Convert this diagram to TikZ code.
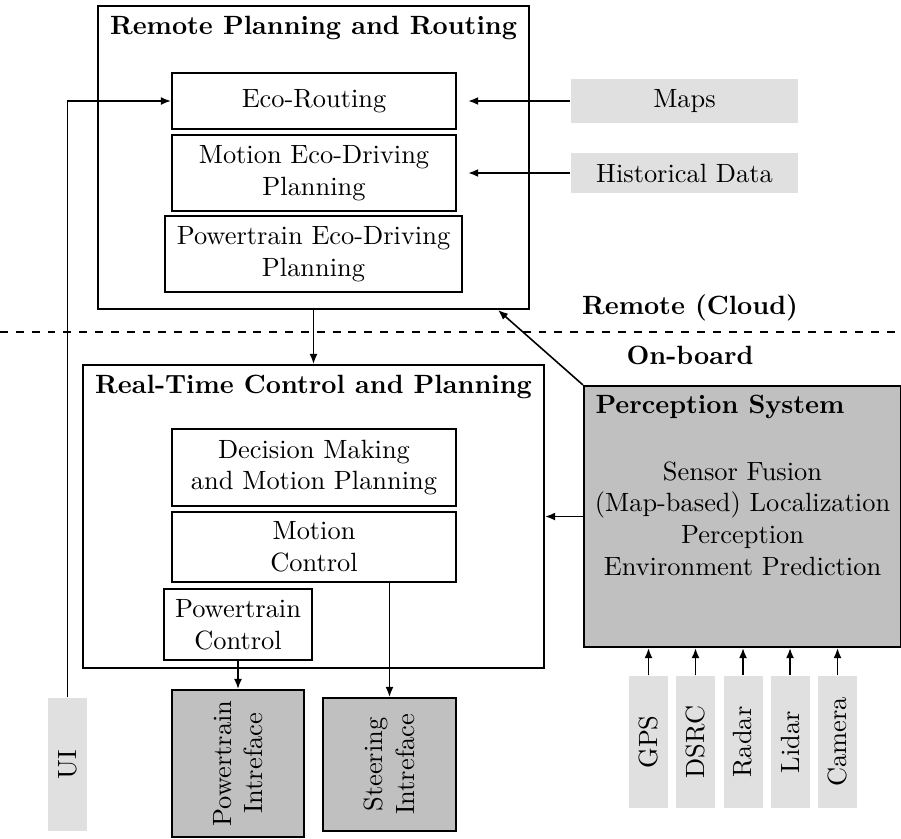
\documentclass[tikz,border=0pt]{standalone}
\usetikzlibrary{arrows.meta}
\definecolor{lightbox}{HTML}{E0E0E0}
\definecolor{darkbox}{HTML}{C0C0C0}
\def\pxu{0.3788pt}
\begin{document}
\begin{tikzpicture}[x=0.3788pt,y=-0.3788pt,
  sz/.style 2 args={minimum width=#1*\pxu,minimum height=#2*\pxu},
  frame/.style={draw,line width=0.8pt,inner sep=0pt,align=center},
  src/.style={fill=lightbox,inner sep=0pt,align=center},
  dark/.style={draw,line width=0.8pt,fill=darkbox,inner sep=0pt,align=center},
  conn/.style={line width=0.6pt,-{Latex[length=3.8pt,width=3pt]}},
  title/.style={font=\bfseries,inner sep=0pt}]
\useasboundingbox (0,0) rectangle (901,838);

% Remote part
\node[frame,sz={431}{303}] (remote) at (313.5,157.5) {};
\node[title] (remotetitle) at (313.5,27.5) {Remote Planning and Routing};
\node[frame,sz={284}{56}] (eco) at (314,101) {Eco-Routing};
\node[frame,sz={284}{76}] (med) at (314,173) {Motion Eco-Driving\\Planning};
\node[frame,sz={297}{76}] (ped) at (313.5,254) {Powertrain Eco-Driving\\Planning};
\node[src,sz={227}{44}] (maps) at (684.5,101) {Maps};
\node[src,sz={227}{40}] (hist) at (684.5,173) {Historical Data};

% separation
\coordinate (dl) at (0,332);
\coordinate (dr) at (901,332);
\draw[dashed,line width=0.6pt] (dl) -- (dr);
\node[title] (cloud) at (690,308) {Remote (Cloud)};
\node[title] (onboard) at (690,355) {On-board};

% Real-time part
\node[frame,sz={461}{303}] (rt) at (313.5,516.5) {};
\node[title] (rttitle) at (313.5,386.5) {Real-Time Control and Planning};
\node[frame,sz={284}{77}] (dm) at (314,467.5) {Decision Making\\and Motion Planning};
\node[frame,sz={284}{70}] (mc) at (314,547) {Motion\\Control};
\node[frame,sz={148}{71}] (pc) at (238,624.5) {Powertrain\\Control};

% Perception
\node[dark,sz={317}{261}] (perc) at (742.5,516.5) {};
\node[title,anchor=west] (perctitle) at (595,407) {Perception System};
\node[align=center,inner sep=0pt] (percbody) at (742.5,518.5) {Sensor Fusion\\(Map-based) Localization\\Perception\\Environment Prediction};

% bottom boxes (rotated)
\node[src,rotate=90,sz={133}{39}] (ui) at (67.5,764.5) {UI};
\node[dark,rotate=90,sz={147}{132}] (pi) at (238,763.5) {Powertrain\\Intreface};
\node[dark,rotate=90,sz={133}{133}] (si) at (389.5,764.5) {Steering\\Intreface};

\node[src,rotate=90,sz={132}{39}] (gps) at (648.5,742) {GPS};
\node[src,rotate=90,sz={132}{39}] (dsrc) at (695.5,742) {DSRC};
\node[src,rotate=90,sz={132}{39}] (radar) at (743,742) {Radar};
\node[src,rotate=90,sz={132}{39}] (lidar) at (790,742) {Lidar};
\node[src,rotate=90,sz={132}{39}] (camera) at (837.5,742) {Camera};

% connectors
\draw[conn] (ui.east) |- (eco.west);
\draw[conn,shorten >=4.2pt] (maps.west) -- (maps.west -| eco.east);
\draw[conn,shorten >=4.2pt] (hist.west) -- (hist.west -| med.east);
\draw[conn] (remote.south) -- (rt.north);
\coordinate (remhit) at (498,310);
\draw[conn] (perc.north west) -- (remhit);
\draw[conn] (perc.west) -- (perc.west -| rt.east);
\draw[conn] (pc.south) -- (pi.east);
\draw[conn] (mc.south -| si.east) -- (si.east);
\foreach \s in {gps,dsrc,radar,lidar,camera}
  \draw[conn] (\s.east) -- (\s.east |- perc.south);
\end{tikzpicture}
\end{document}
